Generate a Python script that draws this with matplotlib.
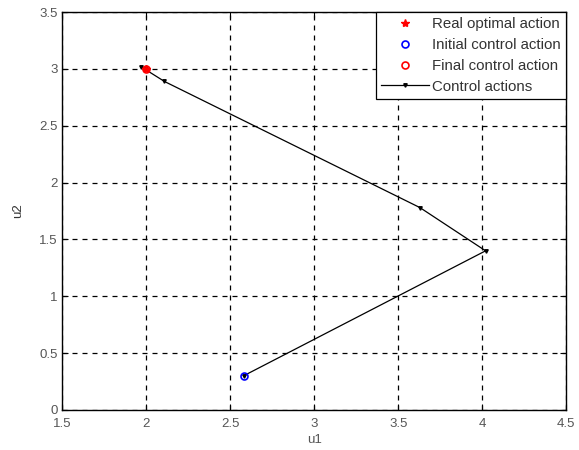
import matplotlib
matplotlib.use("Agg")
import matplotlib.pyplot as plt

# control trajectory
u1_path = [2.58, 4.02, 3.63, 2.11, 1.97, 2.00]
u2_path = [0.30, 1.40, 1.78, 2.89, 3.02, 3.00]
u_opt = (2.0, 3.0)
u_init = (2.58, 0.30)
u_final = (2.0, 3.0)

plt.rcParams["font.family"] = ["Liberation Sans", "DejaVu Sans"]
plt.rcParams["font.size"] = 10

fig = plt.figure(figsize=(5.79, 4.5), dpi=100)
ax = fig.add_axes([0.107, 0.089, 0.871, 0.884])

ax.plot(u_opt[0], u_opt[1], "*", color="red", ms=6, ls="none",
        label="Real optimal action", zorder=5)
ax.plot(u_init[0], u_init[1], "o", mfc="none", mec="blue", mew=1.2, ms=5,
        ls="none", label="Initial control action", zorder=5)
ax.plot(u_final[0], u_final[1], "o", mfc="none", mec="red", mew=1.2, ms=5,
        ls="none", label="Final control action", zorder=5)
ax.plot(u1_path, u2_path, "-v", color="black", lw=0.9, ms=2.5,
        label="Control actions", zorder=4)

ax.set_xlim(1.5, 4.5)
ax.set_ylim(0, 3.5)
ax.set_xticks([1.5, 2, 2.5, 3, 3.5, 4, 4.5])
ax.set_yticks([0, 0.5, 1, 1.5, 2, 2.5, 3, 3.5])
ax.set_xticklabels(["1.5", "2", "2.5", "3", "3.5", "4", "4.5"])
ax.set_yticklabels(["0", "0.5", "1", "1.5", "2", "2.5", "3", "3.5"])
ax.tick_params(direction="in", top=True, right=True, length=4, colors="black",
               labelcolor="#555555", labelsize=9.5)
ax.tick_params(axis="x", pad=6)
ax.tick_params(axis="y", pad=3)
ax.grid(True, color="black", ls=(0, (4, 4)), lw=0.9)
for s in ax.spines.values():
    s.set_linewidth(1.0)

ax.set_xlabel("u1", color="#555555", labelpad=3, fontsize=9.5)
ax.set_ylabel("u2", color="#333333", labelpad=11, fontsize=9.5)

leg = ax.legend(loc="upper right", fancybox=False, framealpha=1, edgecolor="black",
                borderaxespad=0, handlelength=3.2, borderpad=0.35, labelspacing=0.45,
                handletextpad=0.2, prop={"size": 10.8})
for t in leg.get_texts():
    t.set_color("#333333")
leg.get_frame().set_linewidth(0.9)

fig.savefig("out.png", dpi=100)
